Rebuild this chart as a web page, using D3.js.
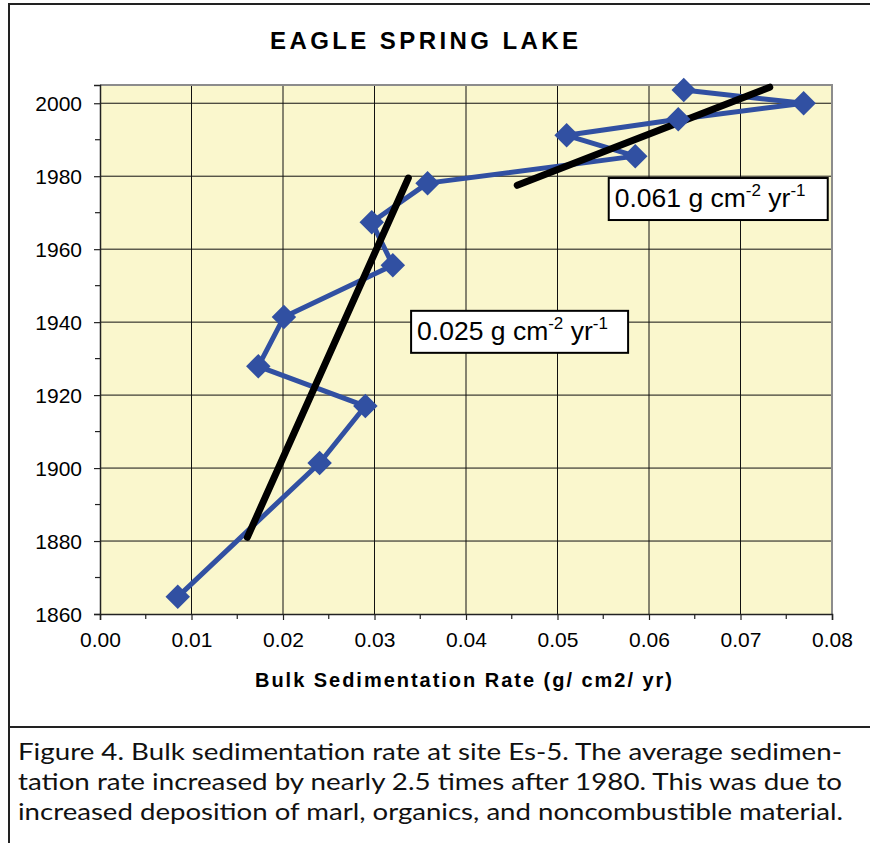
<!DOCTYPE html>
<html>
<head>
<meta charset="utf-8">
<script src="https://cdn.jsdelivr.net/npm/d3@7"></script>
<style>
  html, body { margin: 0; padding: 0; background: #fff; }
  svg { display: block; }
</style>
</head>
<body>
<svg id="chart" width="870" height="843"></svg>
<script>
// Core-section bulk sedimentation rate (g/cm2/yr) by estimated year
const years = [1864.7, 1901.4, 1917.0, 1927.9, 1941.4, 1955.6, 1967.4, 1978.1, 1985.5, 1991.2, 1995.6, 2000.0, 2003.6];
const rates = [0.0085, 0.0240, 0.0290, 0.0173, 0.0201, 0.0320, 0.0297, 0.0358, 0.0585, 0.0510, 0.0632, 0.0769, 0.0638];

// Average-rate trend segments: [startRate, startYear, endRate, endYear]
const trendPre1980 = [0.0161, 1881.0, 0.0337, 1979.5];
const trendPost1980 = [0.0456, 1977.5, 0.0732, 2004.4];
const trendLabels = ["0.025", "0.061"];

const xTicks = [0, 0.01, 0.02, 0.03, 0.04, 0.05, 0.06, 0.07, 0.08];
const xMinor = [0.005, 0.015, 0.025, 0.035, 0.045, 0.055, 0.065, 0.075];
const yTicks = [1860, 1880, 1900, 1920, 1940, 1960, 1980, 2000];
const yMinor = [1870, 1890, 1910, 1930, 1950, 1970, 1990];

const captionLines = [
  "Figure 4. Bulk sedimentation rate at site Es-5. The average sedimen-",
  "tation rate increased by nearly 2.5 times after 1980. This was due to",
  "increased deposition of marl, organics, and noncombustible material."
];

const svg = d3.select("#chart");
const plot = { left: 100, right: 832, top: 85, bottom: 614 };

const x = d3.scaleLinear().domain([0, 0.08]).range([plot.left, plot.right]);
const y = d3.scaleLinear().domain([1860, 2005]).range([plot.bottom, plot.top]);

// Figure frame and caption divider
svg.append("path")
  .attr("d", "M 9 843 V 4 H 872")
  .attr("fill", "none").attr("stroke", "#222").attr("stroke-width", 2);
svg.append("line")
  .attr("x1", 9).attr("x2", 872).attr("y1", 727).attr("y2", 727)
  .attr("stroke", "#222").attr("stroke-width", 2);

// Plot background
svg.append("rect")
  .attr("x", plot.left).attr("y", plot.top)
  .attr("width", plot.right - plot.left).attr("height", plot.bottom - plot.top)
  .attr("fill", "#faf7cd");

// Gridlines
svg.append("g").selectAll("line").data(xTicks.slice(1, -1)).join("line")
  .attr("x1", d => x(d)).attr("x2", d => x(d))
  .attr("y1", plot.top).attr("y2", plot.bottom)
  .attr("stroke", "#111").attr("stroke-width", 1);
svg.append("g").selectAll("line").data(yTicks.slice(1)).join("line")
  .attr("x1", plot.left).attr("x2", plot.right)
  .attr("y1", d => y(d)).attr("y2", d => y(d))
  .attr("stroke", "#111").attr("stroke-width", 1);

// Plot border (top/right in grey)
svg.append("path")
  .attr("d", `M ${plot.left} ${plot.top} H ${plot.right} V ${plot.bottom}`)
  .attr("fill", "none").attr("stroke", "#8c8c8c").attr("stroke-width", 2);

// Axes
const font = "'Liberation Sans', Arial, sans-serif";
const xAxis = svg.append("g")
  .attr("transform", `translate(0,${plot.bottom})`)
  .call(d3.axisBottom(x).tickValues(xTicks).tickFormat(d3.format(".2f")).tickSize(6).tickPadding(10));
const yAxis = svg.append("g")
  .attr("transform", `translate(${plot.left},0)`)
  .call(d3.axisLeft(y).tickValues(yTicks).tickFormat(d3.format("d")).tickSize(6).tickPadding(12));
[xAxis, yAxis].forEach(g => {
  g.select(".domain").attr("stroke", "#222").attr("stroke-width", 1.5);
  g.selectAll(".tick line").attr("stroke", "#222").attr("stroke-width", 1.2);
  g.selectAll(".tick text").attr("fill", "#000").style("font-family", font).style("font-size", "21px");
});
yAxis.selectAll(".tick text").attr("dy", "0.36em");
xAxis.selectAll(".tick text").attr("dy", "0.82em");

// Minor ticks
svg.append("g").selectAll("line").data(xMinor).join("line")
  .attr("x1", d => x(d)).attr("x2", d => x(d))
  .attr("y1", plot.bottom).attr("y2", plot.bottom + 5)
  .attr("stroke", "#222").attr("stroke-width", 1.2);
svg.append("g").selectAll("line").data(yMinor).join("line")
  .attr("x1", plot.left - 5).attr("x2", plot.left)
  .attr("y1", d => y(d)).attr("y2", d => y(d))
  .attr("stroke", "#222").attr("stroke-width", 1.2);

// Data series
const pts = years.map((yr, i) => ({ yr, r: rates[i] }));
const blue = "#3150a2";
svg.append("path")
  .datum(pts)
  .attr("fill", "none").attr("stroke", blue).attr("stroke-width", 5)
  .attr("stroke-linejoin", "round")
  .attr("d", d3.line().x(d => x(d.r)).y(d => y(d.yr)));

// Trend segments
[trendPre1980, trendPost1980].forEach(t => {
  svg.append("line")
    .attr("x1", x(t[0])).attr("y1", y(t[1]))
    .attr("x2", x(t[2])).attr("y2", y(t[3]))
    .attr("stroke", "#000").attr("stroke-width", 7).attr("stroke-linecap", "round");
});

// Diamond markers
const diamond = d3.symbol().type(d3.symbolSquare).size(300);
svg.append("g").selectAll("path").data(pts).join("path")
  .attr("d", diamond)
  .attr("transform", d => `translate(${x(d.r)},${y(d.yr)}) rotate(45)`)
  .attr("fill", blue);

// Rate annotation boxes
const boxes = [
  { label: trendLabels[0], r: 0.0340, yr: 1943.1, w: 217, h: 42 },
  { label: trendLabels[1], r: 0.0556, yr: 1979.5, w: 219, h: 42 }
];
boxes.forEach(b => {
  const bx = x(b.r), by = y(b.yr);
  const g = svg.append("g").attr("transform", `translate(${bx},${by})`);
  g.append("rect").attr("width", b.w).attr("height", b.h)
    .attr("fill", "#fff").attr("stroke", "#000").attr("stroke-width", 2);
  const t = g.append("text").attr("x", 6).attr("y", 29)
    .style("font-family", font).style("font-size", "26.5px").attr("fill", "#000");
  t.append("tspan").text(b.label + " g cm");
  t.append("tspan").attr("dy", -11).style("font-size", "17px").text("-2");
  t.append("tspan").attr("dy", 11).text(" yr");
  t.append("tspan").attr("dy", -11).style("font-size", "17px").text("-1");
});

// Title
svg.append("text")
  .attr("x", 270).attr("y", 49)
  .attr("textLength", 308).attr("lengthAdjust", "spacing")
  .style("font-family", font).style("font-size", "24px").style("font-weight", "bold")
  .text("EAGLE SPRING LAKE");

// X axis title
svg.append("text")
  .attr("x", 255).attr("y", 687)
  .attr("textLength", 417).attr("lengthAdjust", "spacing")
  .style("font-family", font).style("font-size", "20px").style("font-weight", "bold")
  .text("Bulk Sedimentation Rate (g/ cm2/ yr)");

// Caption
svg.append("g").selectAll("text").data(captionLines).join("text")
  .attr("x", 18).attr("y", (d, i) => 760 + i * 30)
  .attr("textLength", (d, i) => [824, 824, 825][i])
  .attr("lengthAdjust", "spacingAndGlyphs")
  .style("font-family", "Lato, 'Noto Sans', sans-serif").style("font-size", "24px")
  .attr("fill", "#111")
  .text(d => d);
</script>
</body>
</html>
